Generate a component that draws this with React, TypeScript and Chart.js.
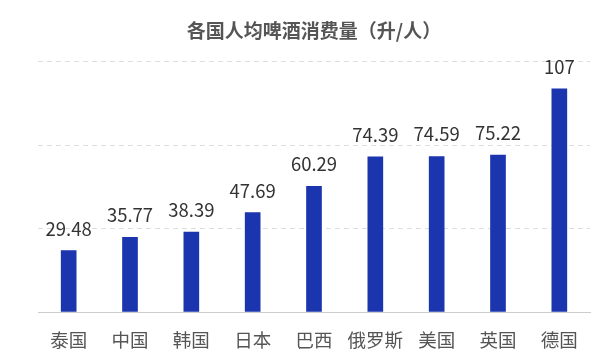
import React, { useEffect, useRef } from "react";
import { Chart, registerables } from "chart.js";

Chart.register(...registerables);

const countries = ["泰国", "中国", "韩国", "日本", "巴西", "俄罗斯", "美国", "英国", "德国"];
const consumption = [29.48, 35.77, 38.39, 47.69, 60.29, 74.39, 74.59, 75.22, 107];
const valueLabels = ["29.48", "35.77", "38.39", "47.69", "60.29", "74.39", "74.59", "75.22", "107"];
const titleText = "各国人均啤酒消费量（升/人）";
const yMax = 120;
const yStep = 40;

const FONT = "'Noto Sans CJK SC', 'Noto Sans', sans-serif";

const valueLabelPlugin = {
  id: "valueLabels",
  afterDatasetsDraw(chart: any) {
    const ctx = chart.ctx;
    const meta = chart.getDatasetMeta(0);
    ctx.save();
    ctx.font = `18.5px ${FONT}`;
    ctx.fillStyle = "#333333";
    ctx.textAlign = "center";
    ctx.textBaseline = "alphabetic";
    meta.data.forEach((bar: any, i: number) => {
      ctx.fillText(valueLabels[i], bar.x, bar.y - 15);
    });
    ctx.restore();
  },
};

export default function App() {
  const ref = useRef<HTMLCanvasElement>(null);
  useEffect(() => {
    if (!ref.current) return;
    const chart = new Chart(ref.current, {
      type: "bar",
      data: {
        labels: countries,
        datasets: [
          {
            data: consumption,
            backgroundColor: "#1a35ad",
            barThickness: 15,
          },
        ],
      },
      options: {
        animation: false,
        responsive: false,
        maintainAspectRatio: false,
        layout: { padding: { top: 19, left: 38, right: 11, bottom: 0 } },
        plugins: {
          legend: { display: false },
          tooltip: { enabled: false },
          title: {
            display: true,
            text: titleText,
            color: "#555555",
            font: { family: FONT, size: 19, weight: "bold" },
            padding: { top: 0, bottom: 20 },
          },
        },
        scales: {
          x: {
            grid: { display: false, drawTicks: false },
            border: { display: true, color: "#cccccc", width: 1 },
            ticks: {
              color: "#555555",
              font: { family: FONT, size: 18.5 },
              padding: 17,
              maxRotation: 0,
              minRotation: 0,
              autoSkip: false,
            },
            afterFit(scale: any) {
              scale.height = 50;
            },
          },
          y: {
            min: 0,
            max: yMax,
            ticks: { display: false, stepSize: yStep },
            grid: { color: "#dddddd", drawTicks: false },
            border: { display: false, dash: [5, 4] },
          },
        },
      },
      plugins: [valueLabelPlugin],
    });
    return () => chart.destroy();
  }, []);
  return (
    <div style={{ position: "fixed", left: 0, top: 0, width: 601, height: 362, background: "#fff" }}>
      <canvas ref={ref} width={601} height={362} style={{ width: 601, height: 362 }} />
    </div>
  );
}
